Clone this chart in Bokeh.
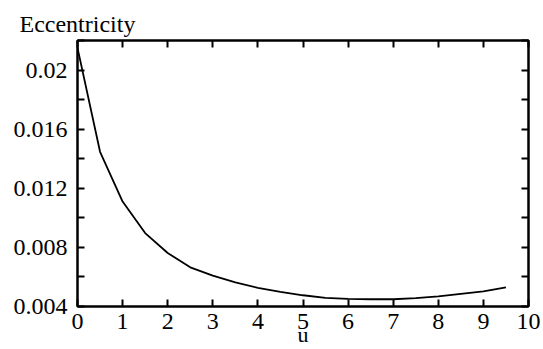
from bokeh.plotting import figure
from bokeh.models import LinearAxis, FixedTicker, Range1d
from bokeh.embed import file_html
from bokeh.resources import INLINE

# Data
u_values = [0.0, 0.5, 1.0, 1.5, 2.0, 2.5, 3.0, 3.5, 4.0, 4.5, 5.0,
            5.5, 6.0, 6.5, 7.0, 7.5, 8.0, 8.5, 9.0, 9.5]
eccentricity = [0.0215, 0.01447, 0.01110, 0.00897, 0.00762, 0.00665, 0.00609,
                0.00564, 0.00526, 0.00499, 0.00476, 0.00459, 0.00452, 0.00449,
                0.00449, 0.00456, 0.00469, 0.00486, 0.00503, 0.00530]

x_ticks = [0, 1, 2, 3, 4, 5, 6, 7, 8, 9, 10]
x_tick_labels = ["0", "1", "2", "3", "4", "5", "6", "7", "8", "9", "10"]
y_ticks = [0.004, 0.008, 0.012, 0.016, 0.02]
y_tick_labels = ["0.004", "0.008", "0.012", "0.016", "0.02"]
y_minor_ticks = [0.006, 0.010, 0.014, 0.018, 0.022]
title_text = "Eccentricity"
x_label_text = "u"

FONT = "Liberation Serif"
FS = "24px"

p = figure(width=543, height=349, output_backend="svg", toolbar_location=None,
           x_range=Range1d(0, 10), y_range=Range1d(0.004, 0.022),
           x_axis_location=None, y_axis_location=None,
           min_border_left=77, min_border_top=40, min_border_right=15, min_border_bottom=42)
p.grid.visible = False
p.outline_line_color = "black"
p.outline_line_width = 2
p.background_fill_color = "white"
p.border_fill_color = "white"

p.title.text = title_text
p.title.align = "left"
p.title.offset = -58
p.title.standoff = 7
p.title.text_font = FONT
p.title.text_font_size = FS
p.title.text_font_style = "normal"
p.title.text_color = "black"

def style(ax, labels):
    ax.axis_line_color = "black"
    ax.axis_line_width = 2
    ax.major_tick_in = 7
    ax.major_tick_out = 0
    ax.minor_tick_in = 7
    ax.minor_tick_out = 0
    ax.major_tick_line_width = 2
    ax.minor_tick_line_width = 2
    ax.major_label_text_font = FONT
    ax.major_label_text_font_size = FS
    ax.major_label_text_color = "black"
    if not labels:
        ax.major_label_text_font_size = "1px"
        ax.major_label_text_color = None
        ax.major_label_standoff = 0

xt = dict(zip(x_ticks, x_tick_labels))
yt = dict(zip(y_ticks, y_tick_labels))

bottom = LinearAxis(ticker=FixedTicker(ticks=x_ticks, minor_ticks=[]))
style(bottom, True)
bottom.major_label_overrides = xt
bottom.major_label_standoff = 7
bottom.axis_label = x_label_text
bottom.axis_label_text_font = FONT
bottom.axis_label_text_font_size = "22px"
bottom.axis_label_text_font_style = "normal"
bottom.axis_label_text_color = "black"
bottom.axis_label_standoff = -10
p.add_layout(bottom, "below")

top = LinearAxis(ticker=FixedTicker(ticks=x_ticks, minor_ticks=[]))
style(top, False)
p.add_layout(top, "above")

left = LinearAxis(ticker=FixedTicker(ticks=y_ticks, minor_ticks=y_minor_ticks))
style(left, True)
left.major_label_overrides = yt
left.major_label_standoff = 10
p.add_layout(left, "left")

right = LinearAxis(ticker=FixedTicker(ticks=y_ticks, minor_ticks=y_minor_ticks))
style(right, False)
p.add_layout(right, "right")

p.line(u_values, eccentricity, line_color="black", line_width=1.8)

open("out.html", "w").write(file_html(p, INLINE))
